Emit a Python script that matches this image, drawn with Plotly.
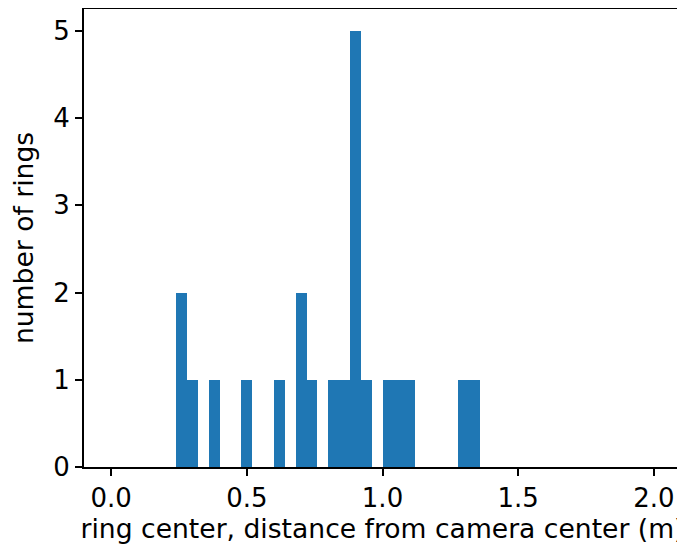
import plotly.graph_objects as go

# histogram bins (left edge, m) and ring counts, bin width 0.04 over 0..2
bin_left = [0.24, 0.28, 0.36, 0.48, 0.60, 0.68, 0.72, 0.80, 0.84, 0.88,
            0.92, 1.00, 1.04, 1.08, 1.28, 1.32]
counts = [2, 1, 1, 1, 1, 2, 1, 1, 1, 5, 1, 1, 1, 1, 1, 1]
bin_width = 0.04

x_ticks = [0.0, 0.5, 1.0, 1.5, 2.0]
x_tick_text = ["0.0", "0.5", "1.0", "1.5", "2.0"]
y_ticks = [0, 1, 2, 3, 4, 5]

fig = go.Figure()
fig.add_trace(
    go.Bar(
        x=bin_left,
        y=counts,
        width=bin_width,
        offset=0,
        marker=dict(color="#1f77b4", line=dict(width=0)),
        name="rings",
    )
)

axis_style = dict(
    showline=True,
    linecolor="black",
    linewidth=2,
    mirror=True,
    ticks="outside",
    ticklen=7,
    tickwidth=2,
    tickcolor="black",
    showgrid=False,
    zeroline=False,
    automargin=False,
    tickfont=dict(size=26),
)

fig.update_xaxes(
    range=[-0.1, 2.1],
    tickvals=x_ticks,
    ticktext=x_tick_text,
    title=dict(text="ring center, distance from camera center (m)",
               font=dict(size=26.6), standoff=7),
    **axis_style,
)
fig.update_yaxes(
    range=[0, 5.25],
    tickvals=y_ticks,
    title=dict(text="number of rings", font=dict(size=26.6), standoff=14),
    **axis_style,
)

# page body adds ~8px offset, so margins are shifted to compensate
fig.update_layout(
    width=677,
    height=541,
    margin=dict(l=76, r=4, t=1, b=82),
    plot_bgcolor="white",
    paper_bgcolor="white",
    bargap=0,
    showlegend=False,
    font=dict(family="DejaVu Sans", color="black"),
)

# hide page scrollbars so the right edge of the figure stays visible
fig.write_html("out.html", post_script="document.body.style.overflow='hidden';")
